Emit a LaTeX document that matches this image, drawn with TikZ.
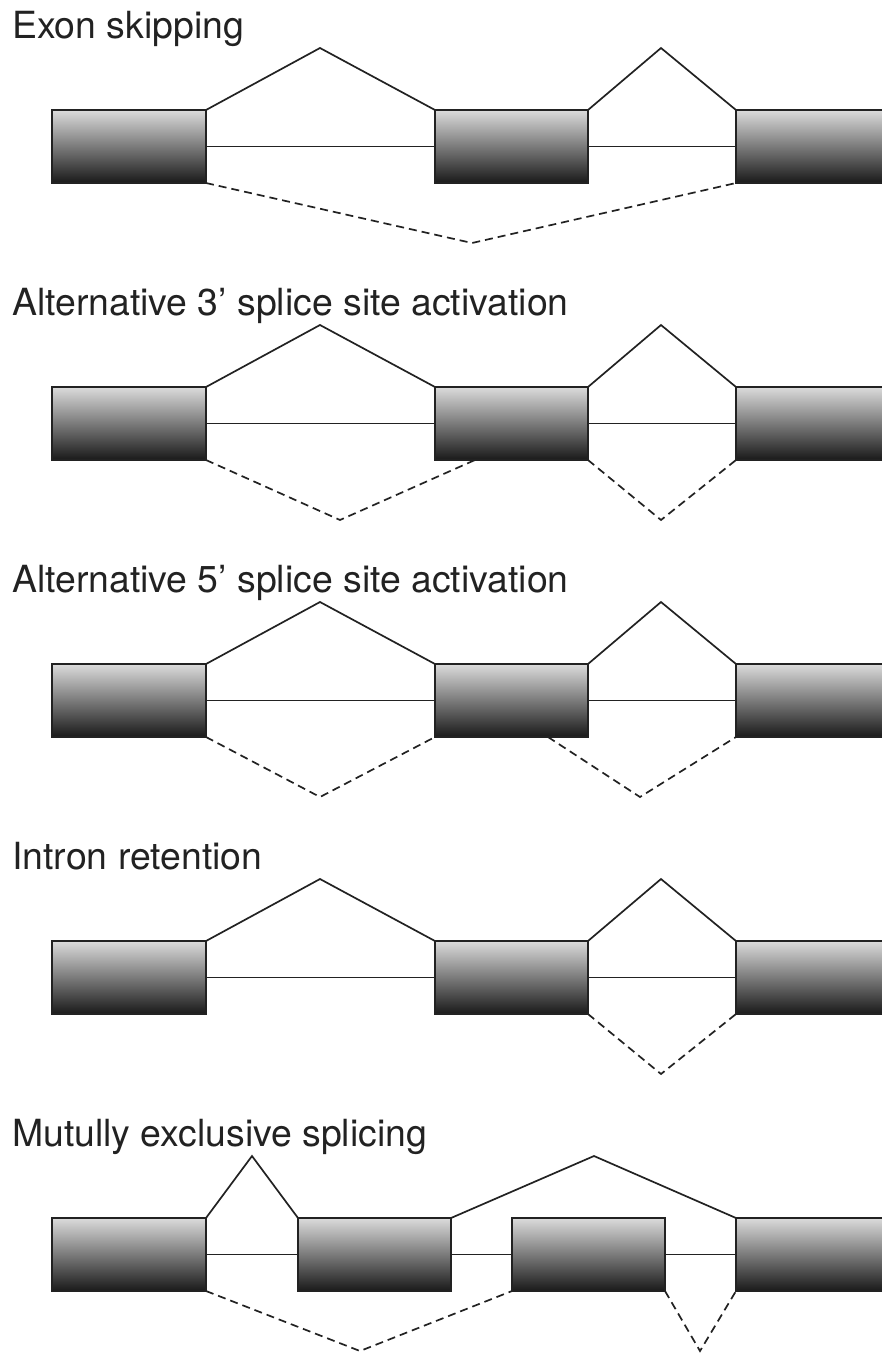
\documentclass[tikz,border=0pt]{standalone}
\usepackage{fontspec}
\setmainfont{TeX Gyre Heros}
\definecolor{ink}{HTML}{222222}
\tikzset{
  exon/.style={draw=ink, line width=2pt, rectangle, anchor=north west,
    minimum height=73pt, inner sep=0pt, outer sep=0pt,
    top color=black!14, middle color=black!52, bottom color=black!90},
  intron/.style={draw=ink, line width=1.7pt},
  alt/.style={draw=ink, line width=1.7pt, dash pattern=on 8pt off 5pt},
  title/.style={anchor=base west, inner sep=0pt, text=ink,
    font=\fontsize{37.4}{44}\selectfont}
}
\begin{document}
\begin{tikzpicture}[x=1pt, y=-1pt]
\useasboundingbox (0,0) rectangle (882,1353);
\clip (0,0) rectangle (882,1353);

% ---------- exon skipping ----------
\node[title] (t1) at (12,38) {Exon skipping};
\node[exon, minimum width=154pt] (a1) at (52,110) {};
\node[exon, minimum width=153pt] (a2) at (435,110) {};
\node[exon, minimum width=170pt] (a3) at (736,110) {};
\coordinate (ap1) at (320,48);
\coordinate (ap2) at (661,48);
\coordinate (ad1) at (472,243);
\draw[intron] (a1.north east) -- (ap1) -- (a2.north west);
\draw[intron] (a2.north east) -- (ap2) -- (a3.north west);
\draw[intron] (a1.east) -- (a2.west);
\draw[intron] (a2.east) -- (a3.west);
\draw[alt] (a1.south east) -- (ad1) -- (a3.south west);

% ---------- alternative 3' splice site ----------
\node[title] (t2) at (12,315) {Alternative 3’ splice site activation};
\node[exon, minimum width=154pt] (b1) at (52,387) {};
\node[exon, minimum width=153pt] (b2) at (435,387) {};
\node[exon, minimum width=170pt] (b3) at (736,387) {};
\coordinate (bp1) at (320,325);
\coordinate (bp2) at (661,325);
\coordinate (bd1) at (340,520);
\coordinate (bs) at (475,460);
\coordinate (bd2) at (661,520);
\draw[intron] (b1.north east) -- (bp1) -- (b2.north west);
\draw[intron] (b2.north east) -- (bp2) -- (b3.north west);
\draw[intron] (b1.east) -- (b2.west);
\draw[intron] (b2.east) -- (b3.west);
\draw[alt] (b1.south east) -- (bd1) -- (bs);
\draw[alt] (b2.south east) -- (bd2) -- (b3.south west);

% ---------- alternative 5' splice site ----------
\node[title] (t3) at (12,592) {Alternative 5’ splice site activation};
\node[exon, minimum width=154pt] (c1) at (52,664) {};
\node[exon, minimum width=153pt] (c2) at (435,664) {};
\node[exon, minimum width=170pt] (c3) at (736,664) {};
\coordinate (cp1) at (320,602);
\coordinate (cp2) at (661,602);
\coordinate (cd1) at (320,797);
\coordinate (cs) at (548,737);
\coordinate (cd2) at (640,797);
\draw[intron] (c1.north east) -- (cp1) -- (c2.north west);
\draw[intron] (c2.north east) -- (cp2) -- (c3.north west);
\draw[intron] (c1.east) -- (c2.west);
\draw[intron] (c2.east) -- (c3.west);
\draw[alt] (c1.south east) -- (cd1) -- (c2.south west);
\draw[alt] (cs) -- (cd2) -- (c3.south west);

% ---------- intron retention ----------
\node[title] (t4) at (12,869) {Intron retention};
\node[exon, minimum width=154pt] (d1) at (52,941) {};
\node[exon, minimum width=153pt] (d2) at (435,941) {};
\node[exon, minimum width=170pt] (d3) at (736,941) {};
\coordinate (dp1) at (320,879);
\coordinate (dp2) at (661,879);
\coordinate (dd1) at (661,1074);
\draw[intron] (d1.north east) -- (dp1) -- (d2.north west);
\draw[intron] (d2.north east) -- (dp2) -- (d3.north west);
\draw[intron] (d1.east) -- (d2.west);
\draw[intron] (d2.east) -- (d3.west);
\draw[alt] (d2.south east) -- (dd1) -- (d3.south west);

% ---------- mutually exclusive exons ----------
\node[title] (t5) at (12,1146) {Mutully exclusive splicing};
\node[exon, minimum width=154pt] (e1) at (52,1218) {};
\node[exon, minimum width=153pt] (e2) at (298,1218) {};
\node[exon, minimum width=153pt] (e3) at (512,1218) {};
\node[exon, minimum width=170pt] (e4) at (736,1218) {};
\coordinate (ep1) at (252,1156);
\coordinate (ep2) at (594,1156);
\coordinate (ed1) at (360,1351);
\coordinate (ed2) at (700,1351);
\draw[intron] (e1.north east) -- (ep1) -- (e2.north west);
\draw[intron] (e2.north east) -- (ep2) -- (e4.north west);
\draw[intron] (e1.east) -- (e2.west);
\draw[intron] (e2.east) -- (e3.west);
\draw[intron] (e3.east) -- (e4.west);
\draw[alt] (e1.south east) -- (ed1) -- (e3.south west);
\draw[alt] (e3.south east) -- (ed2) -- (e4.south west);
\end{tikzpicture}
\end{document}
